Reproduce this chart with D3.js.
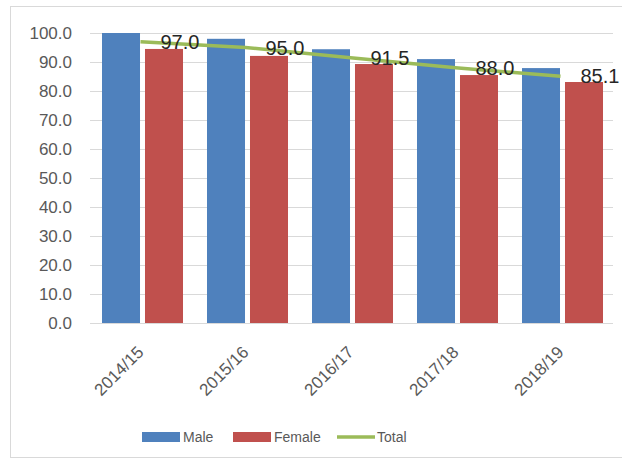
<!DOCTYPE html>
<meta charset="utf-8">
<style>
body { margin: 0; background: #fff; }
svg { font-family: "Liberation Sans", Arial, sans-serif; }
.axis--y text { font-size: 17px; fill: #595959; }
.axis--y line { stroke: #d9d9d9; }
.axis--y path { display: none; }
.xlabel { font-size: 17px; fill: #595959; }
.legend text { font-size: 14px; fill: #595959; }
.dlabel { font-size: 20px; fill: #262626; }
</style>
<svg width="622" height="461"></svg>
<script src="https://d3js.org/d3.v7.min.js"></script>
<script>

var years = ["2014/15", "2015/16", "2016/17", "2017/18", "2018/19"];
var male = [100.0, 98.0, 94.4, 91.0, 87.9];
var female = [94.5, 92.1, 89.3, 85.5, 83.1];
var total = [97.0, 95.0, 91.5, 88.0, 85.1];
var yTicks = [0, 10, 20, 30, 40, 50, 60, 70, 80, 90, 100];

var svg = d3.select("svg");

// outer chart border
svg.append("rect")
    .attr("x", 10.5).attr("y", 6.5)
    .attr("width", 620).attr("height", 451)
    .attr("fill", "none")
    .attr("stroke", "#d9d9d9");

var x = d3.scaleBand().domain(years).range([90, 615]),
    x1 = d3.scaleBand().domain(["Male", "Female"]).range([0, x.bandwidth()])
      .paddingInner(0.116).paddingOuter(0.279),
    y = d3.scaleLinear().domain([0, 100]).range([323, 33]);

svg.append("g")
    .attr("class", "axis axis--y")
    .attr("transform", "translate(90,0)")
    .call(d3.axisLeft(y).tickValues(yTicks).tickSize(-523).tickPadding(18).tickFormat(d3.format(".1f")));

var groups = svg.append("g").selectAll("g")
  .data(years)
  .enter().append("g")
    .attr("transform", function(d) { return "translate(" + x(d) + ",0)"; });

groups.append("rect")
    .attr("fill", "#4f81bd")
    .attr("x", x1("Male"))
    .attr("width", x1.bandwidth())
    .attr("y", function(d, i) { return y(male[i]); })
    .attr("height", function(d, i) { return y(0) - y(male[i]); });

groups.append("rect")
    .attr("fill", "#c0504d")
    .attr("x", x1("Female"))
    .attr("width", x1.bandwidth())
    .attr("y", function(d, i) { return y(female[i]); })
    .attr("height", function(d, i) { return y(0) - y(female[i]); });

// baseline
svg.append("line")
    .attr("x1", 90).attr("x2", 613)
    .attr("y1", y(0) + 0.5).attr("y2", y(0) + 0.5)
    .attr("stroke", "#d9d9d9");

var line = d3.line()
    .x(function(d, i) { return x(years[i]) + x.bandwidth() / 2 - 2; })
    .y(function(d) { return y(d); });

svg.append("path")
    .datum(total)
    .attr("fill", "none")
    .attr("stroke", "#9bbb59")
    .attr("stroke-width", 3.5)
    .attr("d", line);

svg.selectAll(".dlabel")
  .data(total)
  .enter().append("text")
    .attr("class", "dlabel")
    .attr("x", function(d, i) { return x(years[i]) + x.bandwidth() / 2 + 18; })
    .attr("y", function(d) { return y(d); })
    .attr("dy", "0.35em")
    .text(function(d) { return d.toFixed(1); });

svg.selectAll(".xlabel")
  .data(years)
  .enter().append("text")
    .attr("class", "xlabel")
    .attr("text-anchor", "end")
    .attr("dy", "0.35em")
    .attr("transform", function(d) {
      return "translate(" + (x(d) + x.bandwidth() / 2 - 2) + ",349) rotate(-45)";
    })
    .text(function(d) { return d; });

// legend
var legend = svg.append("g").attr("class", "legend");
legend.append("rect").attr("x", 142).attr("y", 432).attr("width", 38).attr("height", 10).attr("fill", "#4f81bd");
legend.append("text").attr("x", 183).attr("y", 437).attr("dy", "0.35em").text("Male");
legend.append("rect").attr("x", 233).attr("y", 432).attr("width", 38).attr("height", 10).attr("fill", "#c0504d");
legend.append("text").attr("x", 274).attr("y", 437).attr("dy", "0.35em").text("Female");
legend.append("line").attr("x1", 337).attr("x2", 375).attr("y1", 437).attr("y2", 437)
    .attr("stroke", "#9bbb59").attr("stroke-width", 3.5);
legend.append("text").attr("x", 377).attr("y", 437).attr("dy", "0.35em").text("Total");

</script>
